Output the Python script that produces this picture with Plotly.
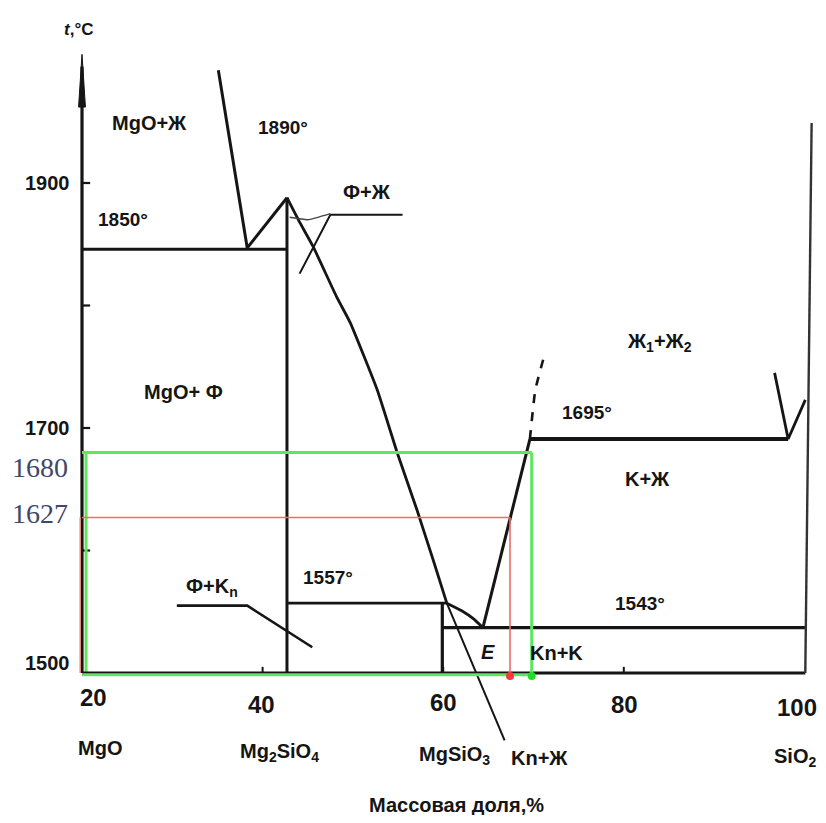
import plotly.graph_objects as go

# ---------------- data (wt.% SiO2, temperature °C) ----------------
mgo_liq_x = [35.1, 38.3, 42.7]
mgo_liq_t = [1992, 1847, 1888]

fo_liq_x = [42.7, 44.1, 45.6, 48.2, 49.7, 52.7, 54.9, 57.1, 58.9, 60.4]
fo_liq_t = [1888, 1868, 1848, 1807, 1786, 1731, 1680, 1633, 1592, 1557]

peri_x = [60.4, 62.0, 63.4, 64.4]
peri_t = [1557, 1551, 1544, 1537]

cr_liq_x = [64.4, 69.6]
cr_liq_t = [1537, 1691]

immisc_x = [69.6, 70.2, 71.3]
immisc_t = [1691, 1731, 1762]

v_sio2_x = [96.7, 98.2, 100.1]
v_sio2_t = [1745, 1691, 1723]

right_edge_x = [100.8, 100.1]
right_edge_t = [1949, 1500]

# isotherms: (x_start, x_end, T)
iso_1850 = (20.0, 42.7, 1846)
iso_1557 = (42.7, 60.4, 1557)
iso_1543 = (59.9, 100.1, 1537)
iso_1695 = (69.6, 98.2, 1691)
base_line = (20.0, 100.1, 1500)

# compound verticals: (x, T_top, T_bottom)
fo_vert = (42.7, 1888, 1500)
en_vert = (59.9, 1557, 1500)

# leader lines
lead_fl_x = [44.1, 47.5, 55.5]
lead_fl_t = [1826, 1874, 1874]
lead_fl2_x = [43.0, 45.0, 47.5]
lead_fl2_t = [1872, 1870, 1875]
lead_fk_x = [30.5, 38.3, 45.5]
lead_fk_t = [1555, 1555, 1521]
lead_kl_x = [60.4, 66.8]
lead_kl_t = [1557, 1445]

# highlighted readings
green_t = 1680
green_x = 69.8
red_t = 1627
red_x = 67.4

y_ticks = [1900, 1800, 1700, 1600]
y_tick_labels = ["1900", "1700", "1500"]
y_tick_label_vals = [1900, 1700, 1508]
x_ticks = [40, 60, 80]
x_tick_labels = ["20", "40", "60", "80", "100"]
x_tick_pos = [21.3, 39.9, 60.0, 80.1, 99.2]
x_tick_lab_t = [1480, 1474, 1476, 1474, 1472]

comp_labels = ["MgO", "Mg<sub>2</sub>SiO<sub>4</sub>", "MgSiO<sub>3</sub>", "Kn+Ж", "SiO<sub>2</sub>"]
comp_x = [22.0, 41.9, 61.3, 70.7, 99.0]
comp_t = [1439, 1435, 1433, 1431, 1431]

field_labels = ["MgO+Ж", "MgO+ Ф", "Ж<sub>1</sub>+Ж<sub>2</sub>", "K+Ж", "Ф+K<sub>n</sub>", "Ф+Ж", "Kn+K"]
field_x = [27.5, 31.2, 84.0, 82.6, 34.4, 51.6, 72.6]
field_t = [1949, 1729, 1770, 1658, 1570, 1893, 1516]

temp_labels = ["1890°", "1850°", "1695°", "1557°", "1543°"]
temp_x = [42.3, 24.5, 75.9, 47.2, 81.8]
temp_t = [1945, 1870, 1713, 1578, 1557]

# ---------------- figure ----------------
# page body has an 8 px margin; ranges chosen so the data land where the reference has them
W, H = 810, 807
X0, X1 = 11.805, 101.506
Y0, Y1 = 1384.08, 2042.86

fig = go.Figure()
BLK = "#151515"


def line(xs, ts, w=3.0, color=BLK, dash="solid", smooth=False):
    ln = dict(color=color, width=w, dash=dash)
    if smooth:
        ln.update(shape="spline", smoothing=0.4)
    fig.add_trace(go.Scatter(x=xs, y=ts, mode="lines", hoverinfo="skip",
                             line=ln, showlegend=False))


def hline(seg, w=3.0, color=BLK):
    line([seg[0], seg[1]], [seg[2], seg[2]], w, color)


def vline(seg, w=3.0, color=BLK):
    line([seg[0], seg[0]], [seg[1], seg[2]], w, color)


# axes
line([20, 20], [1500, 1995], 3.2)
fig.add_trace(go.Scatter(x=[19.62, 20, 20.38, 19.62], y=[1962, 2005, 1962, 1962],
                         mode="lines", fill="toself", fillcolor=BLK,
                         line=dict(color=BLK, width=1), hoverinfo="skip", showlegend=False))
for t in y_ticks:
    line([20, 20.9], [t, t], 2.2)
for xv in x_ticks:
    line([xv, xv], [1500, 1505], 2.0)

# colour readings (under black)
line([19.8, 19.8], [1500, red_t], 1.5, "#e88a7a")
line([20.45, 20.45], [1500, green_t], 3.0, "#5ee65e")

# phase boundaries
hline(base_line, 3.2)
hline(iso_1850, 3.0)
hline(iso_1557, 2.6)
hline(iso_1543, 3.2)
hline(iso_1695, 4.0)
vline(fo_vert, 3.0)
vline(en_vert, 3.2)
line(mgo_liq_x, mgo_liq_t, 3.0)
line(fo_liq_x, fo_liq_t, 2.8, smooth=True)
line(peri_x, peri_t, 2.8, smooth=True)
line(cr_liq_x, cr_liq_t, 3.0)
line(immisc_x, immisc_t, 2.6, dash="dash", smooth=True)
line(v_sio2_x, v_sio2_t, 2.8)
line(right_edge_x, right_edge_t, 2.4, "#333333")

# leaders
line(lead_fl_x, lead_fl_t, 2.0)
line(lead_fl2_x, lead_fl2_t, 1.4, "#444444", smooth=True)
line(lead_fk_x, lead_fk_t, 2.6)
line(lead_kl_x, lead_kl_t, 2.0)

# colour readings (over)
line([20, green_x], [green_t, green_t], 3.0, "#5ee65e")
line([green_x, green_x], [1500, green_t], 3.0, "#5ee65e")
line([20, green_x], [1498.6, 1498.6], 3.0, "#5ee65e")
line([20, red_x], [red_t, red_t], 1.6, "#ee6b6b")
line([red_x, red_x], [1500, red_t], 1.6, "#ee6b6b")
fig.add_trace(go.Scatter(x=[red_x, green_x], y=[1497.5, 1497.5], mode="markers",
                         marker=dict(color=["#f03c3c", "#22dd22"], size=8),
                         hoverinfo="skip", showlegend=False))

SANS = "Liberation Sans, Arial, sans-serif"
SERIF = "Liberation Serif, Times New Roman, serif"


def txt(s, x, t, size=17, xa="center", family=SANS, color=BLK, bold=True, italic=False):
    if bold:
        s = "<b>" + s + "</b>"
    if italic:
        s = "<i>" + s + "</i>"
    fig.add_annotation(x=x, y=t, text=s, showarrow=False, xanchor=xa, yanchor="middle",
                       font=dict(family=family, size=size, color=color))


for s, x, t in zip(field_labels, field_x, field_t):
    txt(s, x, t, 20)
for s, x, t in zip(temp_labels, temp_x, temp_t):
    txt(s, x, t, 19)
txt("E", 65.0, 1517, 20, italic=True)
txt("<i>t</i>,°C", 19.6, 2025, 17)

for s, tv in zip(y_tick_labels, y_tick_label_vals):
    txt(s, 18.9, tv, 20, xa="right")
txt("1680", 18.7, 1668, 28, xa="right", family=SERIF, color="#3f4866", bold=False)
txt("1627", 18.7, 1630, 28, xa="right", family=SERIF, color="#3f4866", bold=False)

for s, x, t in zip(x_tick_labels, x_tick_pos, x_tick_lab_t):
    txt(s, x, t, 24)
for s, x, t in zip(comp_labels, comp_x, comp_t):
    txt(s, x, t, 20)
txt("Массовая доля,%", 61.5, 1392, 20)

fig.update_layout(
    width=W, height=H, autosize=False,
    margin=dict(l=0, r=0, t=0, b=0),
    paper_bgcolor="white", plot_bgcolor="white",
    xaxis=dict(range=[X0, X1], visible=False, fixedrange=True),
    yaxis=dict(range=[Y0, Y1], visible=False, fixedrange=True),
    showlegend=False,
)

fig.write_html("out.html")
